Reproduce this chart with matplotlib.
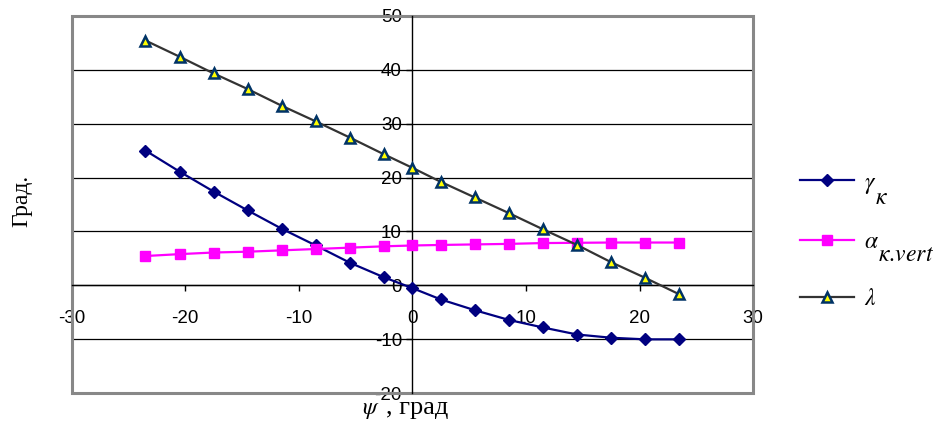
import matplotlib
matplotlib.use("Agg")
import matplotlib.pyplot as plt
from matplotlib.patches import Rectangle

# psi angle, deg
psi = [-23.5, -20.5, -17.5, -14.5, -11.5, -8.5, -5.5, -2.5, 0,
       2.5, 5.5, 8.5, 11.5, 14.5, 17.5, 20.5, 23.5]
gamma_k = [25.0, 21.1, 17.4, 13.9, 10.5, 7.4, 4.2, 1.5, -0.5,
           -2.6, -4.6, -6.4, -7.8, -9.1, -9.7, -10.0, -10.0]
alpha_k_vert = [5.45, 5.8, 6.1, 6.25, 6.5, 6.75, 7.0, 7.25, 7.4,
                7.5, 7.6, 7.7, 7.85, 7.9, 7.95, 7.95, 7.95]
lam = [45.4, 42.4, 39.3, 36.4, 33.3, 30.4, 27.4, 24.3, 21.8,
       19.2, 16.3, 13.4, 10.4, 7.5, 4.3, 1.4, -1.65]

# legend symbols and their subscripts (subscripts drawn full size)
names = [r'$\gamma$', r'$\alpha$', r'$\lambda$']
subs = [r'$\kappa$', r'$\kappa.\!vert$', '']

plt.rcParams['font.family'] = 'Liberation Sans'
plt.rcParams['mathtext.fontset'] = 'stix'
plt.rcParams['axes.unicode_minus'] = False

fig = plt.figure(figsize=(9.48, 4.21), dpi=100)
ax = fig.add_axes([0.0756, 0.0658, 0.7188, 0.8969])

ax.plot(psi, gamma_k, color='#000080', lw=1.6, marker='D', ms=6.3,
        label=names[0])
ax.plot(psi, alpha_k_vert, color='#FF00FF', lw=1.6, marker='s', ms=6.8,
        label=names[1])
ax.plot(psi, lam, color='#333333', lw=1.6, marker='^', ms=7,
        mfc='#FFFF00', mec='#003366', mew=1.8, label=names[2])

ax.set_xlim(-30, 30)
ax.set_ylim(-20, 50)
ax.set_xticks(range(-30, 31, 10))
ax.set_yticks(range(-20, 51, 10))

# axes cross at zero, outer frame drawn separately
ax.spines['left'].set_position(('data', 0))
ax.spines['bottom'].set_position(('data', 0))
ax.spines['top'].set_visible(False)
ax.spines['right'].set_visible(False)
for s in ('left', 'bottom'):
    ax.spines[s].set_linewidth(1.0)
    ax.spines[s].set_zorder(1.5)
ax.add_patch(Rectangle((0, 0), 1, 1, transform=ax.transAxes, fill=False,
                       edgecolor='#888888', lw=2.2, clip_on=False, zorder=1))

ax.yaxis.grid(True, color='black', lw=0.9)
ax.set_axisbelow(True)
ax.tick_params(axis='y', direction='out', length=4.5, width=1, pad=3,
               labelsize=13.5)
ax.tick_params(axis='x', direction='out', length=4.5, width=1, pad=13,
               labelsize=13.5)

fig.text(0.023, 0.523, 'Град.', rotation=90, ha='center', va='center',
         fontsize=17, family='Liberation Serif')
# x axis title: psi symbol, then units
fig.text(0.401, 0.017, r'$\psi$', ha='right', va='baseline', fontsize=17)
fig.text(0.407, 0.017, ', град', ha='left', va='baseline',
         fontsize=19, family='Liberation Serif')

leg = fig.legend(loc='center left', bbox_to_anchor=(0.844, 0.4276),
                 frameon=False, fontsize=17, handlelength=2.3,
                 labelspacing=1.5, handletextpad=0.4, borderpad=0,
                 borderaxespad=0)

# subscripts next to the legend symbols
fig.canvas.draw()
inv = fig.transFigure.inverted()
for t, sub in zip(leg.get_texts(), subs):
    if not sub:
        continue
    bb = t.get_window_extent()
    x0, y0 = inv.transform((bb.x1 - 1, bb.y0 - 8))
    fig.text(x0, y0, sub, ha='left', va='baseline', fontsize=17)

fig.savefig('out.png', dpi=100)
